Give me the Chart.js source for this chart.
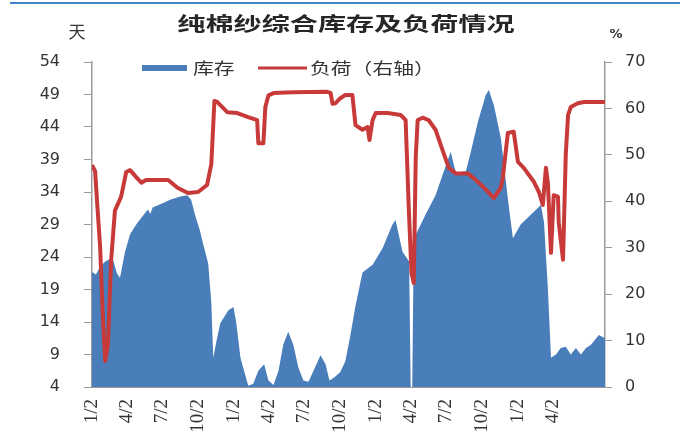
<!DOCTYPE html>
<html lang="zh">
<head>
<meta charset="utf-8">
<title>纯棉纱综合库存及负荷情况</title>
<script src="https://cdn.jsdelivr.net/npm/chart.js@4.4.1/dist/chart.umd.min.js"></script>
<style>
  html, body { margin: 0; padding: 0; background: #fff; }
  #wrap { position: relative; width: 680px; height: 444px; }
</style>
</head>
<body>
<div id="wrap"><canvas id="yarnChart"></canvas></div>
<script>
/* ---------- Data ---------- */
const TITLE = '纯棉纱综合库存及负荷情况';

// x axis: days counted from the first 1/2
const tickDays = [0, 90, 181, 273, 365, 455, 546, 638, 730, 821, 912, 1004, 1096, 1186];
const tickLabels = ['1/2', '4/2', '7/2', '10/2', '1/2', '4/2', '7/2', '10/2', '1/2', '4/2', '7/2', '10/2', '1/2', '4/2'];

const stockTicks = [4, 9, 14, 19, 24, 29, 34, 39, 44, 49, 54];

// 库存 (天)
const stockDays = [0, 10, 21, 34, 46, 54, 64, 72, 85, 98, 116, 137, 144, 150, 156, 183, 201, 227, 245, 255,
  266, 278, 286, 299, 307, 312, 320, 330, 351, 364, 371, 382, 402, 415, 428, 443, 454, 467, 480, 492,
  505, 518, 531, 544, 557, 570, 588, 601, 611, 624, 639, 652, 665, 678, 696, 722, 748, 773, 781, 799,
  816, 820, 824, 828, 858, 884, 902, 923, 936, 962, 974, 993, 1013, 1021, 1034, 1052, 1070, 1083, 1103, 1129,
  1155, 1163, 1173, 1181, 1194, 1206, 1219, 1232, 1245, 1258, 1271, 1284, 1304, 1320];
const stockValues = [21.7, 21.3, 22.5, 23.3, 23.7, 23.6, 21.5, 20.8, 24.8, 27.5, 29.2, 30.8, 31.3, 30.6, 31.6, 32.3, 32.8, 33.3, 33.5, 32.8,
  30.3, 28, 26, 23, 17, 8.5, 11, 13.8, 15.8, 16.3, 14, 8.5, 4.2, 4.5, 6.5, 7.5, 5, 4.3, 6.5, 10.5,
  12.5, 10.5, 7, 5, 4.8, 6.5, 8.9, 7.5, 5, 5.5, 6.3, 8, 12, 16.5, 21.6, 22.8, 25.4, 29, 29.7, 24.8,
  23.3, 4, 4, 26.8, 30.5, 33.5, 36.6, 40.2, 37, 37.2, 40, 44.8, 48.9, 49.7, 47.4, 42.3, 33, 26.9, 29, 30.5,
  32, 29.4, 19.2, 8.5, 9, 10, 10.2, 9, 10, 9, 10, 10.5, 12, 11.5];

// 负荷 (%)
const loadDays = [0, 8, 13, 21, 28, 34, 41, 49, 59, 75, 88, 98, 116, 127, 139, 196, 220, 247, 273, 296,
  307, 315, 322, 348, 374, 400, 425, 428, 441, 446, 454, 467, 518, 606, 614, 619, 626, 639, 652, 670,
  678, 696, 709, 714, 722, 730, 761, 794, 807, 815, 822, 828, 833, 838, 851, 866, 884, 902, 918, 936,
  967, 982, 1008, 1034, 1052, 1057, 1070, 1085, 1096, 1111, 1137, 1150, 1160, 1168, 1173, 1181, 1188, 1199, 1201, 1212,
  1219, 1225, 1232, 1250, 1266, 1320];
const loadValues = [47.8, 46.5, 40, 30, 15, 5.6, 9, 27, 38, 41, 46.3, 46.7, 45, 44, 44.6, 44.6, 42.9, 41.8, 42, 43.5,
  48, 61.6, 61.4, 59.2, 59, 58.2, 57.5, 52.5, 52.5, 60.3, 62.8, 63.3, 63.5, 63.6, 63.3, 61, 61.1, 62.2, 62.9, 62.9,
  56.4, 55.4, 56, 53.2, 57.5, 59, 59, 58.6, 57.5, 38.8, 24.6, 22.4, 49.5, 57.5, 58, 57.5, 55.4, 51, 47.2, 46,
  46, 45, 43, 40.7, 43, 45, 54.7, 55, 48.5, 47.2, 44.2, 42, 39.2, 47.2, 44, 28.9, 41.3, 41, 35.5, 27.4,
  50, 58.6, 60.3, 61.1, 61.4, 61.4];

/* ---------- Styles ---------- */
const COLORS = {
  stock: '#4A7EBB',
  load: '#C83A3A',
  axis: '#9A9A9A',
  text: '#333333',
  title: '#262626',
  rule: '#3D85C6'
};

const CJK = '"Noto Sans CJK SC", sans-serif';

function toPoints(xs, ys) {
  return xs.map((x, i) => ({ x: x, y: ys[i] }));
}

// draws text squeezed wider, the way the heading and key are set
function drawWide(ctx, text, x, y, font, sx, color, align) {
  ctx.save();
  ctx.translate(x, y);
  ctx.scale(sx, 1);
  ctx.font = font;
  ctx.fillStyle = color;
  ctx.textAlign = align || 'left';
  ctx.textBaseline = 'middle';
  ctx.fillText(text, 0, 0);
  ctx.restore();
}

/* ---------- Title, units and key ---------- */
const decorations = {
  id: 'decorations',
  afterDraw(chart) {
    const c = chart.ctx;
    c.save();

    // thin rule along the top edge
    c.strokeStyle = COLORS.rule;
    c.lineWidth = 2;
    c.beginPath();
    c.moveTo(10, 3);
    c.lineTo(680, 3);
    c.stroke();

    drawWide(c, TITLE, 346, 24, 'bold 19px ' + CJK, 1.48, COLORS.title, 'center');
    drawWide(c, '天', 77, 32, '17px ' + CJK, 1, COLORS.text, 'center');
    drawWide(c, '%', 616, 35, 'bold 13px "DejaVu Sans", sans-serif', 1, COLORS.text, 'center');

    // key
    c.fillStyle = COLORS.stock;
    c.fillRect(142, 65, 45, 6);
    drawWide(c, '库存', 193, 68, '16px ' + CJK, 1.3, COLORS.text);

    c.strokeStyle = COLORS.load;
    c.lineWidth = 3;
    c.beginPath();
    c.moveTo(258, 68);
    c.lineTo(307, 68);
    c.stroke();
    drawWide(c, '负荷（右轴）', 310, 68, '16px ' + CJK, 1.3, COLORS.text);

    c.restore();
  }
};

/* ---------- Chart ---------- */
function createYarnChart(canvasId) {
  const ctx = document.getElementById(canvasId);
  if (!ctx) return null;

  return new Chart(ctx, {
    type: 'line',
    data: {
      datasets: [
        {
          label: '负荷（右轴）',
          data: toPoints(loadDays, loadValues),
          yAxisID: 'yLoad',
          borderColor: COLORS.load,
          borderWidth: 4,
          borderJoinStyle: 'round',
          pointRadius: 0,
          tension: 0,
          fill: false,
          order: 0
        },
        {
          label: '库存',
          data: toPoints(stockDays, stockValues),
          yAxisID: 'yStock',
          borderWidth: 0,
          borderColor: COLORS.stock,
          backgroundColor: COLORS.stock,
          pointRadius: 0,
          tension: 0,
          fill: 'start',
          order: 1
        }
      ]
    },
    options: {
      responsive: true,
      maintainAspectRatio: false,
      animation: false,
      layout: { padding: { top: 62, left: 0, right: 0, bottom: 0 } },
      plugins: {
        legend: { display: false },
        title: { display: false },
        tooltip: { enabled: false }
      },
      scales: {
        x: {
          type: 'linear',
          min: 0,
          max: 1320,
          afterBuildTicks: s => { s.ticks = tickDays.map(v => ({ value: v })); },
          afterFit: s => { s.height = 57; },
          grid: { drawOnChartArea: false, drawTicks: false },
          border: { color: COLORS.axis, width: 1 },
          ticks: {
            autoSkip: false,
            minRotation: 90,
            maxRotation: 90,
            padding: 12,
            color: COLORS.text,
            font: { family: '"Liberation Serif", serif', size: 19 },
            callback: v => tickLabels[tickDays.indexOf(v)]
          }
        },
        yStock: {
          type: 'linear',
          position: 'left',
          min: 4,
          max: 54,
          afterBuildTicks: s => { s.ticks = stockTicks.map(v => ({ value: v })); },
          afterFit: s => { s.width = 92; },
          grid: { drawOnChartArea: false, color: COLORS.axis, tickLength: 8 },
          border: { color: COLORS.axis, width: 1.5 },
          ticks: {
            padding: 24,
            color: COLORS.text,
            font: { family: '"DejaVu Sans", sans-serif', size: 16 }
          }
        },
        yLoad: {
          type: 'linear',
          position: 'right',
          min: 0,
          max: 70,
          afterFit: s => { s.width = 75; },
          grid: { drawOnChartArea: false, color: COLORS.axis, tickLength: 7 },
          border: { color: COLORS.axis, width: 1.5 },
          ticks: {
            stepSize: 10,
            padding: 13,
            color: COLORS.text,
            font: { family: '"DejaVu Sans", sans-serif', size: 16 }
          }
        }
      }
    },
    plugins: [decorations]
  });
}

createYarnChart('yarnChart');
</script>
</body>
</html>
